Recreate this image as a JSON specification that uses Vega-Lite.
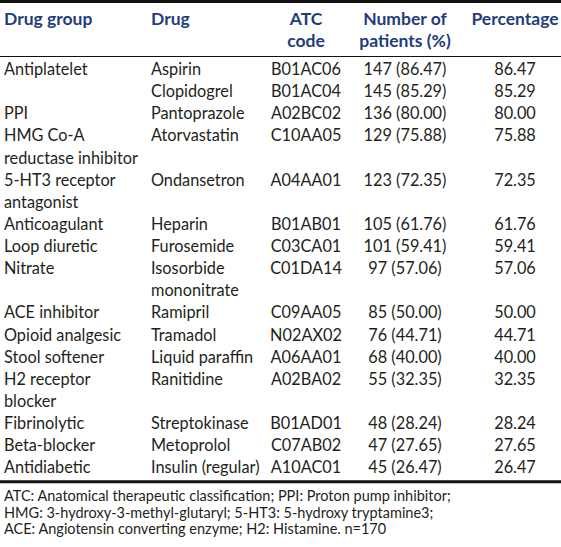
{
  "$schema": "https://vega.github.io/schema/vega-lite/v6.json",
  "width": 561,
  "height": 547,
  "autosize": {"type": "none"},
  "padding": 0,
  "background": "white",
  "config": {"view": {"stroke": null}},
  "datasets": {
    "header": [
      {"column": 0, "line": -2, "label": "Drug group"},
      {"column": 1, "line": -2, "label": "Drug"},
      {"column": 2, "line": -2, "label": "ATC\ncode"},
      {"column": 3, "line": -2, "label": "Number of\npatients (%)"},
      {"column": 4, "line": -2, "label": "Percentage"}
    ],
    "rows": [
      {"line": 1, "group": "Antiplatelet", "drug": "Aspirin", "atc": "B01AC06", "number": "147 (86.47)", "percentage": 86.47},
      {"line": 2, "group": "", "drug": "Clopidogrel", "atc": "B01AC04", "number": "145 (85.29)", "percentage": 85.29},
      {"line": 3, "group": "PPI", "drug": "Pantoprazole", "atc": "A02BC02", "number": "136 (80.00)", "percentage": 80.00},
      {"line": 4, "group": "HMG Co-A\nreductase inhibitor", "drug": "Atorvastatin", "atc": "C10AA05", "number": "129 (75.88)", "percentage": 75.88},
      {"line": 6, "group": "5-HT3 receptor\nantagonist", "drug": "Ondansetron", "atc": "A04AA01", "number": "123 (72.35)", "percentage": 72.35},
      {"line": 8, "group": "Anticoagulant", "drug": "Heparin", "atc": "B01AB01", "number": "105 (61.76)", "percentage": 61.76},
      {"line": 9, "group": "Loop diuretic", "drug": "Furosemide", "atc": "C03CA01", "number": "101 (59.41)", "percentage": 59.41},
      {"line": 10, "group": "Nitrate", "drug": "Isosorbide\nmononitrate", "atc": "C01DA14", "number": "97 (57.06)", "percentage": 57.06},
      {"line": 12, "group": "ACE inhibitor", "drug": "Ramipril", "atc": "C09AA05", "number": "85 (50.00)", "percentage": 50.00},
      {"line": 13, "group": "Opioid analgesic", "drug": "Tramadol", "atc": "N02AX02", "number": "76 (44.71)", "percentage": 44.71},
      {"line": 14, "group": "Stool softener", "drug": "Liquid paraffin", "atc": "A06AA01", "number": "68 (40.00)", "percentage": 40.00},
      {"line": 15, "group": "H2 receptor\nblocker", "drug": "Ranitidine", "atc": "A02BA02", "number": "55 (32.35)", "percentage": 32.35},
      {"line": 17, "group": "Fibrinolytic", "drug": "Streptokinase", "atc": "B01AD01", "number": "48 (28.24)", "percentage": 28.24},
      {"line": 18, "group": "Beta-blocker", "drug": "Metoprolol", "atc": "C07AB02", "number": "47 (27.65)", "percentage": 27.65},
      {"line": 19, "group": "Antidiabetic", "drug": "Insulin (regular)", "atc": "A10AC01", "number": "45 (26.47)", "percentage": 26.47}
    ],
    "notes": [
      {"line": 21, "note": "ATC: Anatomical therapeutic classification; PPI: Proton pump inhibitor;\nHMG: 3-hydroxy-3-methyl-glutaryl; 5-HT3: 5-hydroxy tryptamine3;\nACE:  Angiotensin converting enzyme; H2: Histamine. n=170"}
    ],
    "rules": [
      {"line": -3, "weight": "thick"},
      {"line": 0, "weight": "thin"},
      {"line": 20, "weight": "thick"}
    ]
  },
  "layer": [
    {
      "data": {"name": "rules"},
      "mark": {"type": "rule", "color": "#111111"},
      "encoding": {
        "y": {"field": "line", "type": "quantitative", "axis": null,
              "scale": {"domain": [-3, -2, 0, 1, 19, 20, 21], "range": [1.5, 25, 56.5, 75, 473.3, 481.7, 501], "zero": false, "nice": false}},
        "strokeWidth": {"field": "weight", "type": "nominal", "legend": null,
              "scale": {"domain": ["thin", "thick"], "range": [1, 3]}}
      }
    },
    {
      "data": {"name": "header"},
      "transform": [{"filter": "datum.column <= 1"}],
      "mark": {"type": "text", "align": "left", "baseline": "alphabetic", "font": "Lato", "fontWeight": "bold", "fontSize": 17.5, "color": "#1F3C7D", "lineBreak": "\n", "lineHeight": 21.5},
      "encoding": {
        "x": {"field": "column", "type": "quantitative", "axis": null,
              "scale": {"domain": [0, 1, 2, 3, 4], "range": [4, 151, 306, 405, 515], "zero": false, "nice": false}},
        "y": {"field": "line", "type": "quantitative", "axis": null},
        "text": {"field": "label"}
      }
    },
    {
      "data": {"name": "header"},
      "transform": [{"filter": "datum.column >= 2"}],
      "mark": {"type": "text", "align": "center", "baseline": "alphabetic", "font": "Lato", "fontWeight": "bold", "fontSize": 17.5, "color": "#1F3C7D", "lineBreak": "\n", "lineHeight": 21.5},
      "encoding": {
        "x": {"field": "column", "type": "quantitative", "axis": null},
        "y": {"field": "line", "type": "quantitative", "axis": null},
        "text": {"field": "label"}
      }
    },
    {
      "data": {"name": "rows"},
      "mark": {"type": "text", "align": "left", "baseline": "alphabetic", "font": "Lato", "fontSize": 16.3, "color": "#231F20", "lineBreak": "\n", "lineHeight": 22.13},
      "encoding": {
        "x": {"datum": 0, "type": "quantitative", "axis": null},
        "y": {"field": "line", "type": "quantitative", "axis": null},
        "text": {"field": "group"}
      }
    },
    {
      "data": {"name": "rows"},
      "mark": {"type": "text", "align": "left", "baseline": "alphabetic", "font": "Lato", "fontSize": 16.3, "color": "#231F20", "lineBreak": "\n", "lineHeight": 22.13},
      "encoding": {
        "x": {"datum": 1, "type": "quantitative", "axis": null},
        "y": {"field": "line", "type": "quantitative", "axis": null},
        "text": {"field": "drug"}
      }
    },
    {
      "data": {"name": "rows"},
      "mark": {"type": "text", "align": "center", "baseline": "alphabetic", "font": "Lato", "fontSize": 16.3, "color": "#231F20"},
      "encoding": {
        "x": {"datum": 2, "type": "quantitative", "axis": null},
        "y": {"field": "line", "type": "quantitative", "axis": null},
        "text": {"field": "atc"}
      }
    },
    {
      "data": {"name": "rows"},
      "mark": {"type": "text", "align": "center", "baseline": "alphabetic", "font": "Lato", "fontSize": 16.3, "color": "#231F20"},
      "encoding": {
        "x": {"datum": 3, "type": "quantitative", "axis": null},
        "y": {"field": "line", "type": "quantitative", "axis": null},
        "text": {"field": "number"}
      }
    },
    {
      "data": {"name": "rows"},
      "mark": {"type": "text", "align": "center", "baseline": "alphabetic", "font": "Lato", "fontSize": 16.3, "color": "#231F20"},
      "encoding": {
        "x": {"datum": 4, "type": "quantitative", "axis": null},
        "y": {"field": "line", "type": "quantitative", "axis": null},
        "text": {"field": "percentage", "type": "quantitative", "format": ".2f"}
      }
    },
    {
      "data": {"name": "notes"},
      "mark": {"type": "text", "align": "left", "baseline": "alphabetic", "font": "Lato", "fontSize": 14.5, "color": "#231F20", "lineBreak": "\n", "lineHeight": 16.5},
      "encoding": {
        "x": {"datum": 0, "type": "quantitative", "axis": null},
        "y": {"field": "line", "type": "quantitative", "axis": null},
        "text": {"field": "note"}
      }
    }
  ]
}
